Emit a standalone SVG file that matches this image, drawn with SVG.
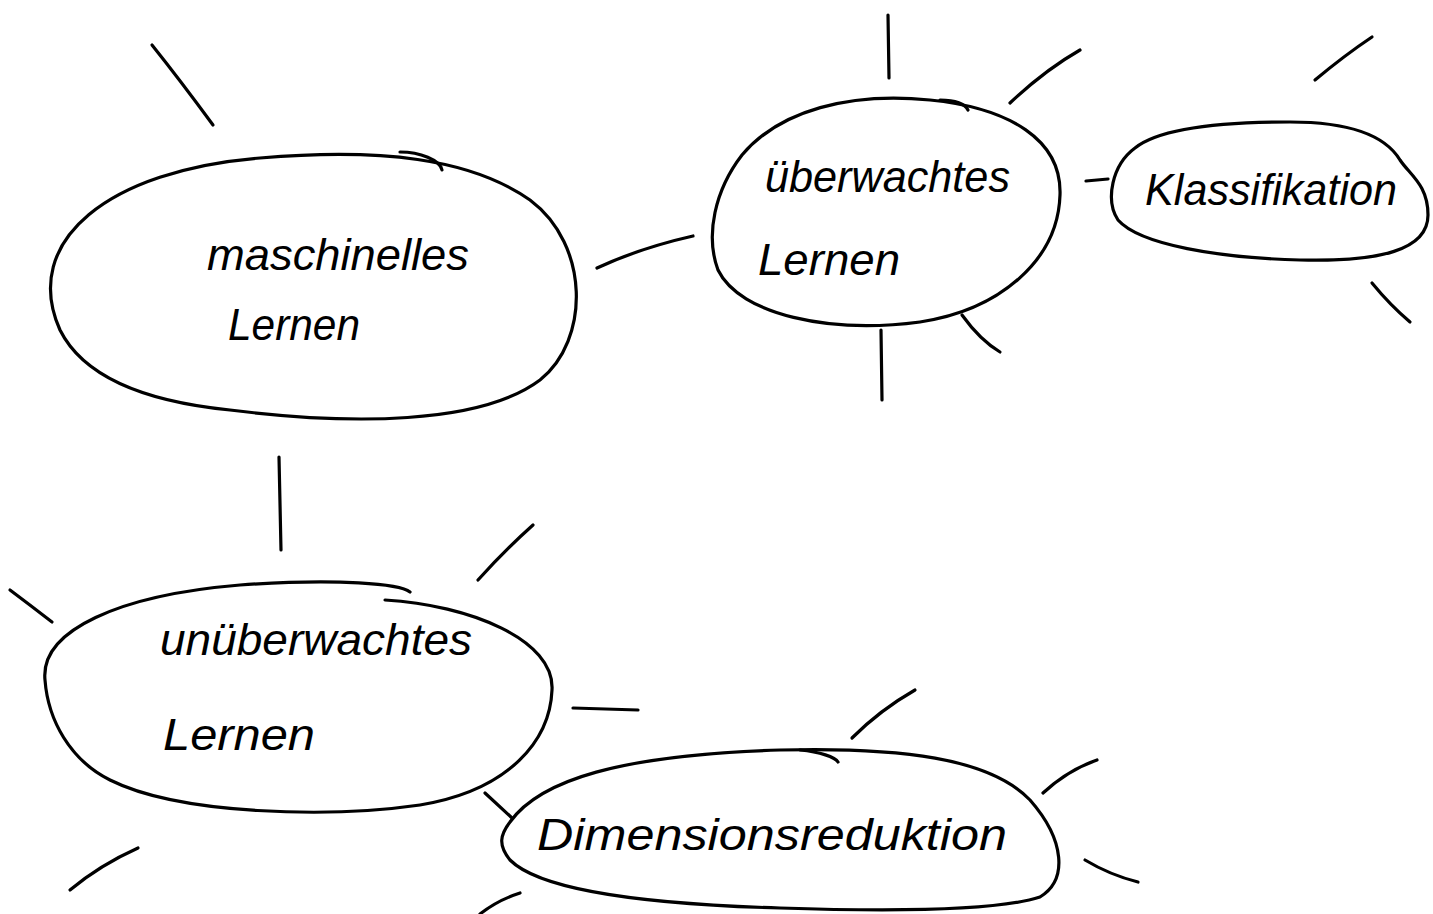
<svg xmlns="http://www.w3.org/2000/svg" width="1433" height="914" viewBox="0 0 1433 914">
<style>
.o{fill:none;stroke:#000;stroke-width:3.2;stroke-linecap:round;stroke-linejoin:round}
.t{font-family:"Liberation Sans",Arial,sans-serif;font-size:44px;fill:#000;font-style:italic}
</style>
<rect width="1433" height="914" fill="#fff"/>
<g id="connectors" class="o">
<path d="M597 268 Q640 248 693 236"/>
<path d="M279 457 L281 550"/>
<path d="M1086 181 L1108 179"/>
<path d="M573 708 L638 710"/>
<path d="M485 793 L512 818"/>
</g>
<g id="stubs" class="o">
<path d="M152 45 Q180 80 213 125"/>
<path d="M888 15 L889 78"/>
<path d="M1010 103 Q1045 70 1080 50"/>
<path d="M1315 80 Q1345 55 1372 37"/>
<path d="M1372 283 Q1390 305 1410 322"/>
<path d="M962 315 Q980 340 1000 352"/>
<path d="M881 330 L882 400"/>
<path d="M10 590 Q30 605 52 622"/>
<path d="M478 580 Q505 550 533 525"/>
<path d="M852 738 Q880 710 915 690"/>
<path d="M1043 793 Q1068 770 1097 760"/>
<path d="M1085 860 Q1110 875 1138 882"/>
<path d="M70 890 Q100 865 138 848"/>
<path d="M480 914 Q498 900 520 893"/>
</g>
<g id="n1">
<path class="o" d="M60 330 C20 240 110 170 260 158 C380 148 470 158 530 200 C590 245 590 340 540 380 C480 425 350 425 230 410 C130 400 80 370 60 330 Z"/>
<path class="o" d="M400 152 C420 152 440 160 442 170"/>
<text class="t" x="207" y="270" textLength="262" lengthAdjust="spacingAndGlyphs">maschinelles</text>
<text class="t" x="228" y="340" textLength="132" lengthAdjust="spacingAndGlyphs">Lernen</text>
</g>
<g id="n2">
<path class="o" d="M742 155 C780 110 850 92 930 100 C1010 108 1062 140 1060 195 C1058 260 1000 310 920 322 C830 334 740 315 718 270 C705 235 715 190 742 155 Z"/>
<path class="o" d="M940 100 C955 100 965 104 968 110"/>
<text class="t" x="765" y="192" textLength="245" lengthAdjust="spacingAndGlyphs">überwachtes</text>
<text class="t" x="758" y="275" textLength="142" lengthAdjust="spacingAndGlyphs">Lernen</text>
</g>
<g id="n3">
<path class="o" d="M1135 148 C1160 128 1220 122 1290 122 C1350 122 1385 135 1400 160 C1410 175 1428 185 1428 215 C1428 250 1380 262 1300 260 C1220 258 1140 245 1118 220 C1105 200 1112 165 1135 148 Z"/>
<text class="t" x="1145" y="205" textLength="252" lengthAdjust="spacingAndGlyphs">Klassifikation</text>
</g>
<g id="n4">
<path class="o" d="M410 592 C400 584 340 578 240 585 C120 595 40 630 45 680 C48 720 70 760 110 780 C180 815 330 818 420 805 C510 790 550 740 552 690 C555 640 470 605 385 600"/>
<text class="t" x="160" y="655" textLength="312" lengthAdjust="spacingAndGlyphs">unüberwachtes</text>
<text class="t" x="163" y="750" textLength="152" lengthAdjust="spacingAndGlyphs">Lernen</text>
</g>
<g id="n5">
<path class="o" d="M510 822 C540 780 620 755 780 750 C900 747 990 758 1030 800 C1065 840 1068 880 1040 897 C1000 910 900 912 780 908 C640 904 540 890 510 860 C498 845 500 835 510 822 Z"/>
<path class="o" d="M800 750 C820 752 835 757 838 762"/>
<text class="t" x="537" y="850" textLength="470" lengthAdjust="spacingAndGlyphs" font-size="48">Dimensionsreduktion</text>
</g>
</svg>
